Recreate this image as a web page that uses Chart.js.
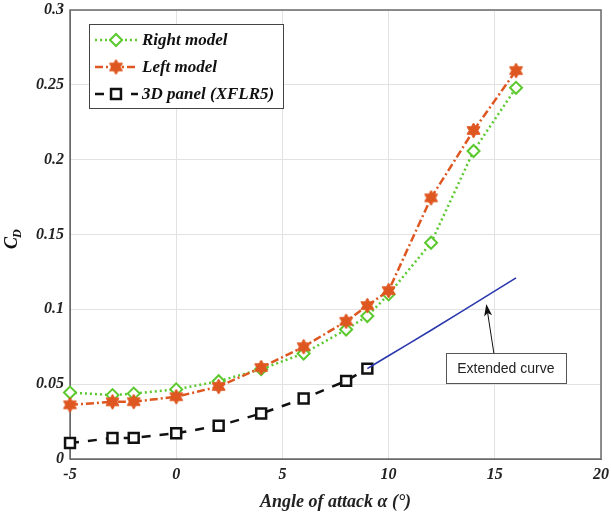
<!DOCTYPE html>
<html>
<head>
<meta charset="utf-8">
<script src="https://cdn.jsdelivr.net/npm/chart.js@4.4.1/dist/chart.umd.min.js"></script>
<style>
  html, body { margin: 0; padding: 0; background: #fff; }
  #wrap { width: 611px; height: 513px; }
</style>
</head>
<body>
<div id="wrap"><canvas id="cdChart" width="611" height="513"></canvas></div>
<script>
// values
const angles = [-5, -3, -2, 0, 2, 4, 6, 8, 9, 10, 12, 14, 16];
const rightModel = [0.0444, 0.0427, 0.0437, 0.0465, 0.0520, 0.0600, 0.0705, 0.0865, 0.0955, 0.1100, 0.1445, 0.2058, 0.2480];
const leftModel = [0.0362, 0.0382, 0.0383, 0.0416, 0.0484, 0.0611, 0.0750, 0.0920, 0.1025, 0.1125, 0.1745, 0.2195, 0.2595];
const panelAngles = [-5, -3, -2, 0, 2, 4, 6, 8, 9];
const panel3D = [0.0107, 0.0140, 0.0141, 0.0172, 0.0222, 0.0304, 0.0404, 0.0522, 0.0604];
const extAngles = [9, 10, 12, 14, 16];
const extended = [0.0604, 0.0690, 0.0860, 0.1035, 0.1210];
const seriesNames = ['Right model', 'Left model', '3D panel (XFLR5)'];
const xTitle = 'Angle of attack \u03b1 (\u00b0)';
const noteText = 'Extended curve';

const GREEN = '#5cc92e';
const ORANGE = '#df5720';
const BLACK = '#111111';
const BLUE = '#2b37ad';
const FRAME = '#6a6a6a';
const SERIF = '"Liberation Serif", "Times New Roman", serif';

const pts = (xs, ys) => xs.map((x, i) => ({ x: x, y: ys[i] }));

// filled six-pointed star, like the matlab hexagram marker
function makeHexagram(color, r) {
  const c = document.createElement('canvas');
  const s = Math.ceil(r * 2 + 4);
  c.width = s;
  c.height = s;
  const g = c.getContext('2d');
  const cx = s / 2, cy = s / 2;
  g.beginPath();
  for (let i = 0; i < 12; i++) {
    const a = -Math.PI / 2 + i * Math.PI / 6;
    const rr = i % 2 === 0 ? r : r * 0.58;
    const px = cx + Math.cos(a) * rr, py = cy + Math.sin(a) * rr;
    if (i === 0) g.moveTo(px, py); else g.lineTo(px, py);
  }
  g.closePath();
  g.fillStyle = color;
  g.strokeStyle = color;
  g.lineWidth = 1;
  g.fill();
  g.stroke();
  return c;
}
const starImg = makeHexagram(ORANGE, 7.5);

const legendItems = [
  { text: seriesNames[0], color: GREEN, dash: [2, 3], point: { pointStyle: 'rectRot', radius: 6, borderWidth: 2, rotation: 0 }, fill: '#fff' },
  { text: seriesNames[1], color: ORANGE, dash: [8, 3, 2, 3], point: { pointStyle: starImg, radius: 7, borderWidth: 0, rotation: 0 }, fill: ORANGE },
  { text: seriesNames[2], color: BLACK, dash: [9, 9], point: { pointStyle: 'rect', radius: 7, borderWidth: 2.5, rotation: 0 }, fill: '#fff' },
];

const framePlugin = {
  id: 'frame',
  beforeDatasetsDraw(chart) {
    // plot box under the marks, so edge markers sit on top of it
    const ctx = chart.ctx;
    const a = chart.chartArea;
    ctx.save();
    ctx.strokeStyle = FRAME;
    ctx.lineWidth = 1.5;
    ctx.strokeRect(a.left, a.top, a.right - a.left, a.bottom - a.top);
    ctx.restore();
  },
  afterDatasetsDraw(chart) {
    const ctx = chart.ctx;
    const xs = chart.scales.x, ys = chart.scales.y;
    ctx.save();

    // legend
    const lx = 89, ly = 24, lw = 194, lh = 84;
    ctx.fillStyle = '#fff';
    ctx.fillRect(lx, ly, lw, lh);
    ctx.strokeStyle = '#444';
    ctx.lineWidth = 1;
    ctx.strokeRect(lx + 0.5, ly + 0.5, lw, lh);
    ctx.font = 'italic bold 17px ' + SERIF;
    ctx.textBaseline = 'middle';
    legendItems.forEach((it, i) => {
      const y = 40 + i * 27;
      ctx.save();
      ctx.strokeStyle = it.color;
      ctx.lineWidth = 2.5;
      ctx.setLineDash(it.dash);
      ctx.beginPath();
      ctx.moveTo(95, y);
      ctx.lineTo(138, y);
      ctx.stroke();
      ctx.restore();
      ctx.save();
      ctx.fillStyle = it.fill;
      ctx.strokeStyle = it.color;
      ctx.lineWidth = it.point.borderWidth;
      Chart.helpers.drawPoint(ctx, it.point, 116, y);
      ctx.restore();
      ctx.fillStyle = '#111';
      ctx.fillText(it.text, 142, y + 1);
    });

    // annotation box and arrow, placed in data units
    const bx = xs.getPixelForValue(15.52), by = ys.getPixelForValue(0.0607);
    const bw = 120, bh = 30;
    ctx.fillStyle = '#fff';
    ctx.fillRect(bx - bw / 2, by - bh / 2, bw, bh);
    ctx.strokeStyle = '#555';
    ctx.lineWidth = 1;
    ctx.strokeRect(Math.round(bx - bw / 2) + 0.5, Math.round(by - bh / 2) + 0.5, bw, bh);
    ctx.fillStyle = '#222';
    ctx.font = '14px "Liberation Sans", Arial, sans-serif';
    ctx.textAlign = 'center';
    ctx.fillText(noteText, bx, by + 1);

    const hx = xs.getPixelForValue(14.6), hy = ys.getPixelForValue(0.1035);
    const tx = bx - 12, ty = by - bh / 2;
    const ang = Math.atan2(hy - ty, hx - tx);
    ctx.strokeStyle = '#111';
    ctx.lineWidth = 1;
    ctx.beginPath();
    ctx.moveTo(tx, ty);
    ctx.lineTo(hx - Math.cos(ang) * 8, hy - Math.sin(ang) * 8);
    ctx.stroke();
    ctx.fillStyle = '#111';
    ctx.beginPath();
    ctx.moveTo(hx, hy);
    ctx.lineTo(hx - Math.cos(ang) * 12 + Math.sin(ang) * 4, hy - Math.sin(ang) * 12 - Math.cos(ang) * 4);
    ctx.lineTo(hx - Math.cos(ang) * 9, hy - Math.sin(ang) * 9);
    ctx.lineTo(hx - Math.cos(ang) * 12 - Math.sin(ang) * 4, hy - Math.sin(ang) * 12 + Math.cos(ang) * 4);
    ctx.closePath();
    ctx.fill();

    // y axis title C_D
    ctx.translate(17, 240);
    ctx.rotate(-Math.PI / 2);
    ctx.textAlign = 'left';
    ctx.textBaseline = 'alphabetic';
    ctx.fillStyle = '#111';
    ctx.font = 'italic bold 18px ' + SERIF;
    const cw = ctx.measureText('C').width;
    ctx.fillText('C', -cw / 2 - 3, 0);
    ctx.font = 'italic bold 12px ' + SERIF;
    ctx.fillText('D', cw / 2 - 4, 4);
    ctx.restore();
  }
};

const ctx = document.getElementById('cdChart');

const myChart = new Chart(ctx, {
  type: 'line',
  data: {
    datasets: [
      {
        label: seriesNames[1],
        data: pts(angles, leftModel),
        borderColor: ORANGE,
        borderWidth: 2.5,
        borderDash: [8, 3, 2, 3],
        pointStyle: starImg,
        pointRadius: 7,
        pointBackgroundColor: ORANGE,
        pointBorderColor: ORANGE,
        tension: 0,
        clip: false,
      },
      {
        label: seriesNames[0],
        data: pts(angles, rightModel),
        borderColor: GREEN,
        borderWidth: 2.5,
        borderDash: [2, 3],
        pointStyle: 'rectRot',
        pointRadius: 6,
        pointBorderWidth: 2,
        pointBackgroundColor: '#fff',
        pointBorderColor: GREEN,
        tension: 0,
        clip: false,
      },
      {
        label: 'Extended',
        data: pts(extAngles, extended),
        borderColor: BLUE,
        borderWidth: 1.6,
        pointRadius: 0,
        cubicInterpolationMode: 'monotone',
      },
      {
        label: seriesNames[2],
        data: pts(panelAngles, panel3D),
        borderColor: BLACK,
        borderWidth: 2.5,
        borderDash: [9, 9],
        pointStyle: 'rect',
        pointRadius: 7,
        pointBorderWidth: 2.5,
        pointBackgroundColor: '#fff',
        pointBorderColor: BLACK,
        tension: 0,
        clip: false,
      },
    ],
  },
  options: {
    responsive: false,
    animation: false,
    layout: { padding: { top: 10, right: 10, left: 0, bottom: 0 } },
    plugins: {
      legend: { display: false },
      tooltip: { enabled: false },
    },
    scales: {
      x: {
        type: 'linear',
        min: -5,
        max: 20,
        ticks: {
          stepSize: 5,
          padding: 6,
          color: '#222',
          font: { family: SERIF, size: 16, style: 'italic', weight: 'bold' },
        },
        grid: { color: '#e2e2e2', drawTicks: false },
        border: { color: FRAME },
        title: {
          display: true,
          text: xTitle,
          color: '#222',
          padding: { top: -2, bottom: 0 },
          font: { family: SERIF, size: 18, style: 'italic', weight: 'bold' },
        },
        afterFit: (scale) => {
          scale.height = 54;
          scale.paddingRight = 0;
          scale.paddingLeft = 0;
        },
      },
      y: {
        min: 0,
        max: 0.3,
        ticks: {
          stepSize: 0.05,
          padding: 6,
          color: '#222',
          font: { family: SERIF, size: 16, style: 'italic', weight: 'bold' },
          callback: (v) => String(Number(v.toFixed(2))),
        },
        grid: { color: '#e2e2e2', drawTicks: false },
        border: { color: FRAME },
        afterFit: (scale) => {
          scale.width = 70;
          scale.paddingTop = 0;
          scale.paddingBottom = 0;
        },
      },
    },
  },
  plugins: [framePlugin],
});
</script>
</body>
</html>
